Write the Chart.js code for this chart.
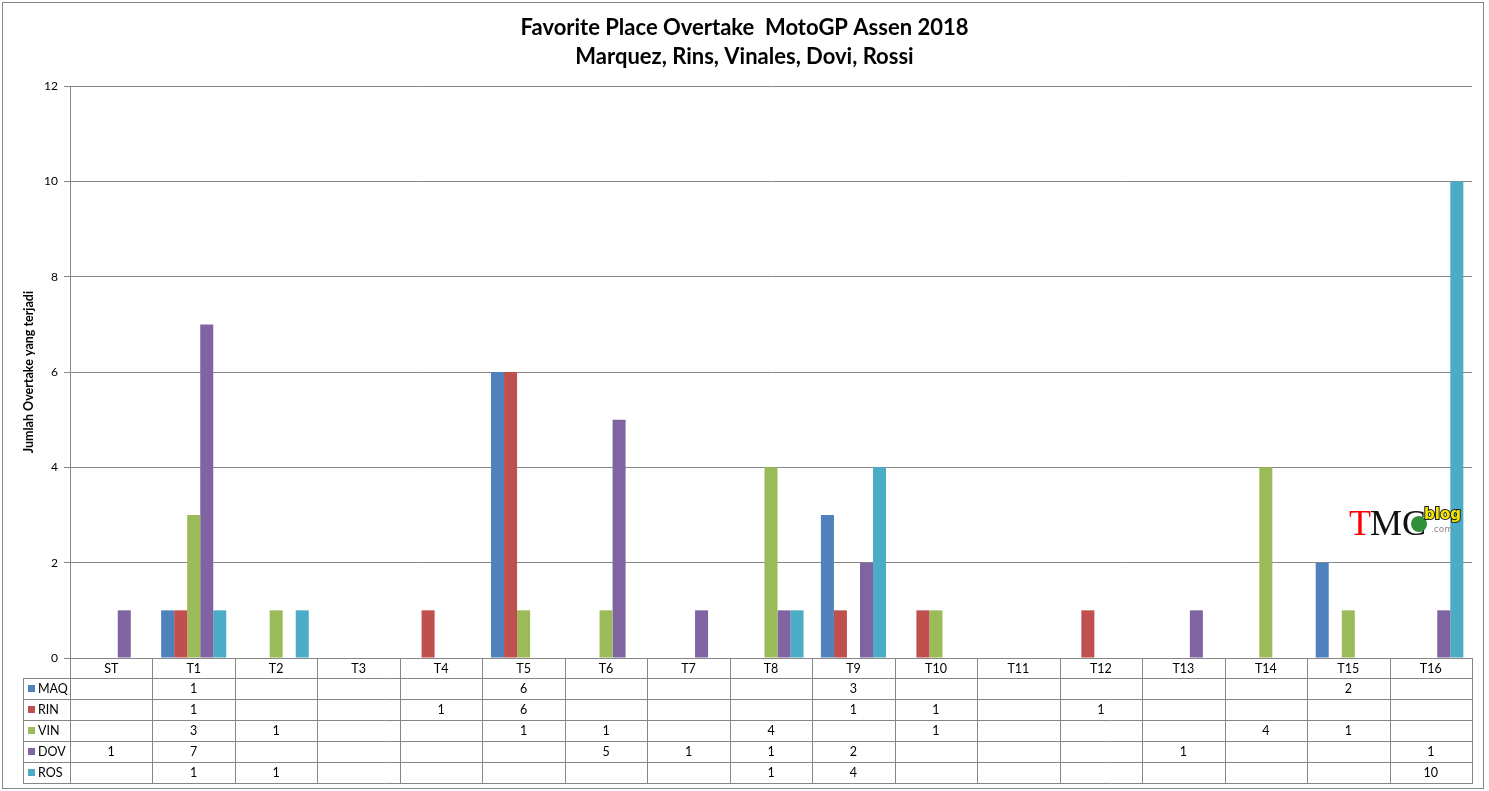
<!DOCTYPE html>
<html lang="en">
<head>
    <meta charset="UTF-8">
    <title>Favorite Place Overtake MotoGP Assen 2018</title>
    <script src="https://cdn.jsdelivr.net/npm/chart.js"></script>
    <style>
        body {
            margin: 0;
            background: #fff;
            overflow: hidden;
        }
        .wrap {
            width: 1489px;
            height: 791px;
            position: relative;
        }
    </style>
</head>
<body>
    <div class="wrap">
        <canvas id="myChart"></canvas>
    </div>
    <script>
        // data (null = empty cell)
        const categories = ['ST', 'T1', 'T2', 'T3', 'T4', 'T5', 'T6', 'T7', 'T8', 'T9', 'T10', 'T11', 'T12', 'T13', 'T14', 'T15', 'T16'];
        const riders = ['MAQ', 'RIN', 'VIN', 'DOV', 'ROS'];
        const maq = [null, 1, null, null, null, 6, null, null, null, 3, null, null, null, null, null, 2, null];
        const rin = [null, 1, null, null, 1, 6, null, null, null, 1, 1, null, 1, null, null, null, null];
        const vin = [null, 3, 1, null, null, 1, 1, null, 4, null, 1, null, null, null, 4, 1, null];
        const dov = [1, 7, null, null, null, null, 5, 1, 1, 2, null, null, null, 1, null, null, 1];
        const ros = [null, 1, 1, null, null, null, null, null, 1, 4, null, null, null, null, null, null, 10];
        const yTicks = [0, 2, 4, 6, 8, 10, 12];

        const colors = ['#4F81BD', '#C0504D', '#9BBB59', '#8064A2', '#4BACC6'];
        const series = [maq, rin, vin, dov, ros];
        const font = "Lato, 'Open Sans', sans-serif";
        const lineColor = '#868686';

        const HEADER_H = 20;
        const ROW_H = 21;
        const LEGEND_LEFT = 23;

        function drawLogo(ctx) {
            ctx.save();
            ctx.textBaseline = 'alphabetic';
            ctx.font = "36px 'Liberation Serif', serif";
            ctx.fillStyle = '#ff0000';
            ctx.fillText('T', 1349, 535);
            let x = 1349 + ctx.measureText('T').width - 1;
            ctx.fillStyle = '#111';
            ctx.fillText('MC', x, 535);
            // little green badge in the mouth of the C
            ctx.fillStyle = '#2f8f3a';
            ctx.beginPath();
            ctx.arc(1419, 524, 8, 0, Math.PI * 2);
            ctx.fill();
            ctx.font = "bold 15px 'DejaVu Sans', sans-serif";
            ctx.lineWidth = 2;
            ctx.strokeStyle = '#222';
            ctx.strokeText('blog', 1424, 519);
            ctx.fillStyle = '#f2e600';
            ctx.fillText('blog', 1424, 519);
            ctx.font = "9px 'DejaVu Sans', sans-serif";
            ctx.fillStyle = '#8a8a8a';
            ctx.fillText('.com', 1431, 532);
            ctx.restore();
        }

        // data table under the plot, drawn on the x scale columns
        const tablePlugin = {
            id: 'dataTable',
            afterDraw(chart) {
                const ctx = chart.ctx;
                const area = chart.chartArea;
                const xs = chart.scales.x;
                const n = categories.length;
                const colW = (area.right - area.left) / n;
                const top = area.bottom;
                const rowsTop = top + HEADER_H;
                const bottom = rowsTop + ROW_H * riders.length;

                drawLogo(ctx);

                ctx.save();
                ctx.strokeStyle = lineColor;
                ctx.lineWidth = 1;

                // outer frame
                ctx.strokeRect(2.5, 2.5, 1481, 786);

                ctx.beginPath();
                // column separators
                for (let i = 0; i <= n; i++) {
                    const px = Math.round(area.left + i * colW) + 0.5;
                    ctx.moveTo(px, top);
                    ctx.lineTo(px, bottom);
                }
                // legend column left edge
                ctx.moveTo(LEGEND_LEFT + 0.5, rowsTop);
                ctx.lineTo(LEGEND_LEFT + 0.5, bottom);
                // row lines
                for (let r = 0; r <= riders.length; r++) {
                    const py = Math.round(rowsTop + r * ROW_H) + 0.5;
                    ctx.moveTo(LEGEND_LEFT, py);
                    ctx.lineTo(area.right + 1, py);
                }
                ctx.stroke();

                ctx.font = '12.5px ' + font;
                ctx.textBaseline = 'middle';
                riders.forEach((name, r) => {
                    const cy = rowsTop + r * ROW_H + ROW_H / 2 + 0.5;
                    ctx.fillStyle = colors[r];
                    ctx.fillRect(LEGEND_LEFT + 5, cy - 4, 7, 7);
                    ctx.fillStyle = '#000';
                    ctx.textAlign = 'left';
                    ctx.fillText(name, LEGEND_LEFT + 15, cy);
                    ctx.textAlign = 'center';
                    series[r].forEach((v, i) => {
                        if (v !== null) {
                            ctx.fillText(String(v), xs.getPixelForValue(i), cy);
                        }
                    });
                });
                ctx.restore();
            }
        };

        const ctx = document.getElementById('myChart').getContext('2d');
        new Chart(ctx, {
            type: 'bar',
            data: {
                labels: categories,
                datasets: riders.map((name, i) => ({
                    label: name,
                    data: series[i],
                    backgroundColor: colors[i],
                    borderWidth: 0
                }))
            },
            options: {
                responsive: true,
                maintainAspectRatio: false,
                animation: false,
                categoryPercentage: 0.79,
                barPercentage: 1,
                layout: {
                    padding: { left: 0, right: 0, top: 0, bottom: ROW_H * 5 + 8 }
                },
                scales: {
                    x: {
                        grid: { display: false, drawTicks: false, tickLength: 0 },
                        border: { display: true, color: lineColor },
                        ticks: {
                            color: '#000',
                            padding: 3,
                            font: { family: font, size: 12.5 }
                        },
                        afterFit(scale) { scale.height = HEADER_H; }
                    },
                    y: {
                        min: 0,
                        max: 12,
                        afterBuildTicks(scale) {
                            scale.ticks = yTicks.map(v => ({ value: v }));
                        },
                        grid: {
                            color: lineColor,
                            tickLength: 6,
                            drawTicks: true
                        },
                        border: { display: true, color: lineColor },
                        ticks: {
                            color: '#000',
                            padding: 6,
                            font: { family: font, size: 12 }
                        },
                        title: {
                            display: true,
                            text: 'Jumlah Overtake yang terjadi',
                            color: '#000',
                            padding: { top: 21, bottom: 0 },
                            font: { family: font, size: 12.5, weight: 'bold' }
                        },
                        afterFit(scale) { scale.width = 70; }
                    },
                    // empty right-hand spacer so the title stays centred on the whole frame
                    spacer: {
                        type: 'linear',
                        position: 'right',
                        grid: { display: false, drawTicks: false },
                        border: { display: false },
                        ticks: { display: false },
                        afterFit(scale) { scale.width = 17; }
                    }
                },
                plugins: {
                    legend: { display: false },
                    tooltip: { enabled: false },
                    title: {
                        display: true,
                        text: ['Favorite Place Overtake  MotoGP Assen 2018', 'Marquez, Rins, Vinales, Dovi, Rossi'],
                        color: '#000',
                        padding: { top: 13, bottom: 15 },
                        font: { family: font, size: 22, weight: 'bold', lineHeight: 1.32 }
                    }
                }
            },
            plugins: [tablePlugin]
        });
    </script>
</body>
</html>
